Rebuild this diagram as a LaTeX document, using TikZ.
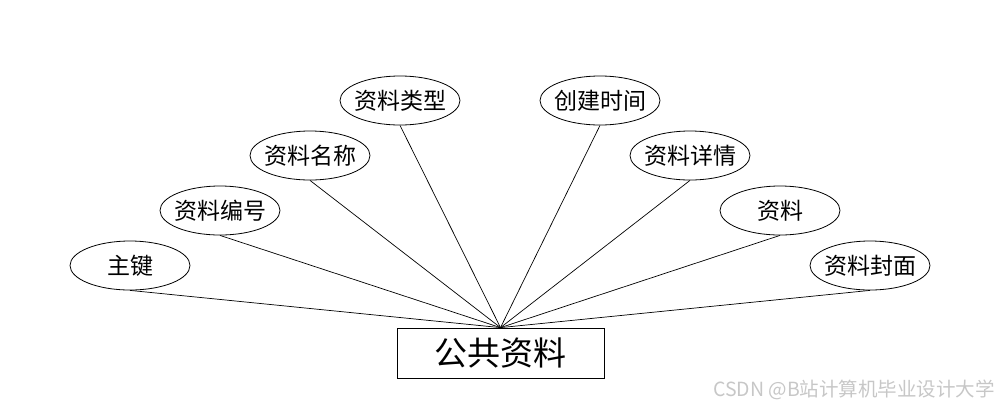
\documentclass[tikz,border=0pt]{standalone}
\usepackage{fontspec}
\setmainfont{Noto Sans CJK SC}
\usetikzlibrary{shapes.geometric}

\begin{document}
\begin{tikzpicture}[x=1pt,y=-1pt]
        \tikzset{Attr/.style={draw, ellipse, line width=0.8pt,
                minimum width=120pt, minimum height=49pt,
                inner xsep=-5pt, inner ysep=0pt,
                font=\fontsize{23}{23}\selectfont},
                Entity/.style={draw, rectangle, line width=0.8pt,
                minimum width=207pt, minimum height=50pt, inner sep=0pt,
                font=\fontsize{33}{33}\selectfont},
                Link/.style={line width=0.7pt}}
        \useasboundingbox (0,0) rectangle (1000,408);
        \node[Entity] (Res) at (500.5,353) {公共资料};
        \node[Attr] (Key) at (130,265.5) {主键};
        \node[Attr] (Num) at (220,210.5) {资料编号};
        \node[Attr] (Name) at (310,155.5) {资料名称};
        \node[Attr] (Type) at (400,100.5) {资料类型};
        \node[Attr] (Time) at (600,100.5) {创建时间};
        \node[Attr] (Detail) at (690,155.5) {资料详情};
        \node[Attr] (File) at (780,210.5) {资料};
        \node[Attr] (Cover) at (870,265.5) {资料封面};
        \foreach \v in {Key,Num,Name,Type,Time,Detail,File,Cover}
                \draw[Link] (\v.south) -- (Res.north);
        \node[text=black!22, font=\fontsize{19.5}{19.5}\selectfont] (Mark) at (854,390) {CSDN @B站计算机毕业设计大学};
\end{tikzpicture}
\end{document}
